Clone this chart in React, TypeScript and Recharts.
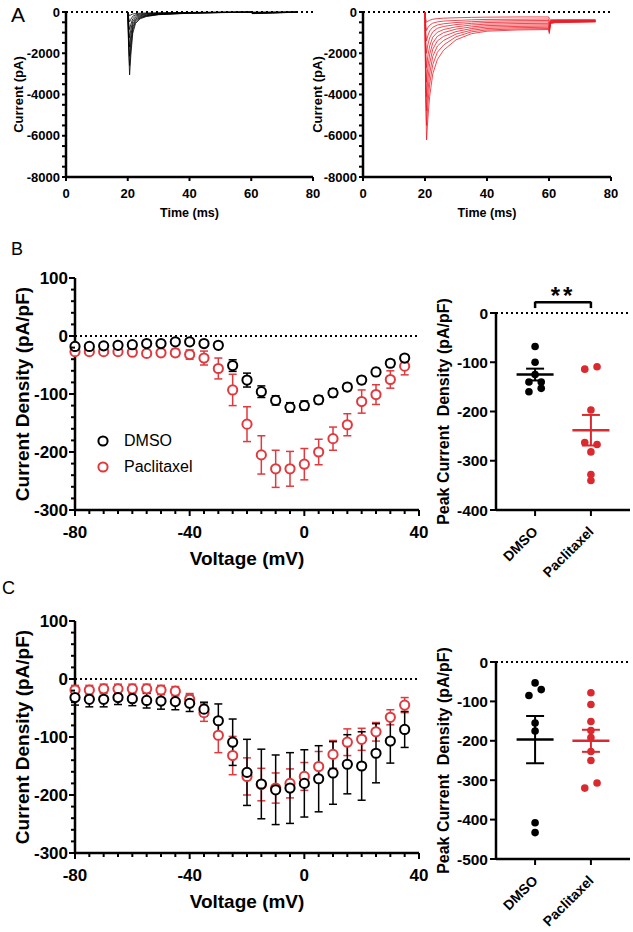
import React from 'react';
import { LineChart, Line, ScatterChart, Scatter, XAxis, YAxis, ReferenceLine, ErrorBar, Legend } from 'recharts';

const FONT = '"Liberation Sans", Arial, sans-serif';
const RED = '#E0393E';
const TRACE_RED = '#EE1B24';
const DOT_RED = '#DA2A2F';

// ---- Panel A: current traces (time in ms, current in pA) ----
const dmsoTraceTimes = [20, 20.3, 20.6, 21, 21.6, 22.5, 24, 26, 30, 40, 50, 60, 60.3, 75];
const dmsoSweeps = [
    [0, -1900, -3050, -2100, -1050, -560, -330, -220, -130, -60, -30, -15, -80, -10],
    [0, -1600, -2600, -1750, -880, -480, -290, -200, -120, -55, -28, -15, -70, -10],
    [0, -1300, -2150, -1450, -740, -410, -260, -180, -110, -50, -25, -12, -60, -8],
    [0, -1000, -1700, -1150, -600, -340, -220, -160, -100, -45, -22, -10, -50, -8],
    [0, -750, -1250, -850, -460, -270, -180, -130, -85, -40, -20, -10, -40, -6],
    [0, -500, -850, -600, -330, -200, -140, -100, -70, -35, -18, -8, -30, -5],
    [0, -280, -480, -350, -210, -140, -100, -75, -55, -28, -15, -6, -20, -5],
    [0, -100, -180, -140, -100, -75, -60, -50, -40, -20, -10, -5, -10, -3],
];

const pacTraceTimes = [20, 20.2, 20.5, 20.9, 21.5, 22.5, 24, 26, 30, 35, 40, 50, 59.9, 60.1, 60.5, 62, 75];
const pacSweeps = [
    [0, -4000, -6200, -5200, -4100, -3000, -2300, -1850, -1350, -1050, -930, -870, -850, -1050, -560, -520, -480],
    [0, -3500, -5500, -4500, -3500, -2550, -1950, -1600, -1200, -960, -870, -820, -800, -980, -540, -500, -470],
    [0, -3000, -4800, -3900, -3000, -2150, -1650, -1380, -1070, -880, -800, -760, -740, -900, -520, -490, -460],
    [0, -2600, -4100, -3300, -2500, -1800, -1400, -1180, -950, -800, -730, -700, -680, -840, -500, -470, -450],
    [0, -2150, -3400, -2700, -2050, -1500, -1180, -1000, -830, -720, -660, -630, -620, -760, -480, -460, -440],
    [0, -1700, -2700, -2150, -1650, -1220, -980, -850, -720, -630, -590, -560, -550, -690, -460, -440, -430],
    [0, -1250, -2000, -1600, -1250, -960, -790, -700, -610, -550, -510, -490, -480, -610, -440, -430, -420],
    [0, -880, -1400, -1150, -920, -740, -630, -570, -510, -470, -440, -420, -410, -530, -420, -410, -400],
    [0, -560, -900, -760, -640, -540, -480, -440, -410, -380, -360, -350, -340, -450, -400, -390, -390],
    [0, -300, -500, -450, -400, -350, -320, -300, -280, -260, -250, -240, -240, -330, -380, -380, -380],
];

const timeTicks = [0, 20, 40, 60, 80];
const currentMajorTicks = [0, -2000, -4000, -6000, -8000];

// ---- Panels B/C: I-V curves (mV, pA/pF) ----
const voltages = [-80, -75, -70, -65, -60, -55, -50, -45, -40, -35, -30, -25, -20, -15, -10, -5, 0, 5, 10, 15, 20, 25, 30, 35];
const voltageLabels = [-80, -40, 0, 40];
const densityLabels = [100, 0, -100, -200, -300];

const dmsoB = [-18, -18, -17, -16, -15, -13, -13, -10, -10, -13, -16, -51, -76, -96, -111, -123, -120, -110, -98, -88, -76, -62, -47, -38];
const dmsoBErr = [5, 5, 5, 5, 5, 5, 5, 5, 5, 5, 5, 10, 12, 10, 8, 8, 8, 7, 7, 6, 6, 6, 6, 5];
const pacB = [-27, -27, -27, -27, -28, -30, -29, -29, -32, -38, -56, -93, -152, -205, -229, -229, -221, -200, -177, -153, -113, -101, -75, -52];
const pacBErr = [5, 5, 5, 5, 5, 5, 5, 6, 8, 12, 18, 27, 30, 33, 32, 30, 27, 22, 20, 19, 20, 17, 15, 15];

const dmsoC = [-32, -35, -35, -32, -34, -37, -38, -39, -42, -52, -72, -109, -161, -181, -191, -188, -180, -172, -162, -147, -150, -128, -107, -87];
const dmsoCErr = [13, 13, 13, 12, 12, 13, 14, 14, 14, 12, 29, 40, 57, 60, 60, 61, 58, 57, 54, 51, 59, 51, 38, 31];
const pacC = [-19, -19, -17, -17, -17, -17, -19, -21, -35, -58, -97, -132, -168, -182, -188, -180, -168, -151, -130, -109, -104, -91, -66, -45];
const pacCErr = [8, 8, 8, 8, 8, 8, 8, 8, 10, 15, 30, 33, 32, 28, 26, 25, 24, 26, 24, 23, 19, 16, 13, 13];

// ---- Peak current density, individual cells ----
const groups = ['DMSO', 'Paclitaxel'];

const dmsoPeakB = [-68, -100, -125, -140, -140, -160, -153];
const dmsoPeakBCol = [1, 1, 1, 0.89, 1.11, 0.89, 1.11];
const pacPeakB = [-114, -109, -197, -263, -267, -282, -328, -340];
const pacPeakBCol = [1.89, 2.11, 2, 1.89, 2.11, 2, 2, 2];
const peakBMean = [-125, -238];
const peakBSem = [12, 31];

const dmsoPeakC = [-53, -85, -70, -155, -175, -408, -433];
const dmsoPeakCCol = [1, 0.89, 1.11, 1, 1, 1, 1];
const pacPeakC = [-78, -108, -151, -174, -192, -227, -250, -320, -307];
const pacPeakCCol = [2, 2, 2, 2, 2, 2, 2, 1.89, 2.11];
const peakCMean = [-197, -200];
const peakCSem = [60, 28];

const peakBTicks = [0, -100, -200, -300, -400];
const peakCTicks = [0, -100, -200, -300, -400, -500];

const range = (from: number, to: number, step: number) => {
    const out: number[] = [];
    for (let v = from; v <= to; v += step) out.push(v);
    return out;
};

const traceRows = (times: number[], sweeps: number[][]) =>
    times.map((t, i) => {
        const row: any = { t };
        sweeps.forEach((s, k) => { row['s' + k] = s[i]; });
        return row;
    });

const ivRows = (ys: number[], es: number[]) => voltages.map((v, i) => ({ v, y: ys[i], e: es[i] }));
const peakRows = (ys: number[], cols: number[]) => ys.map((y, i) => ({ x: cols[i], y }));

const axisLine = { stroke: '#000', strokeWidth: 2.5 };

const makeYTick = (labels: number[], majorLen: number, minorLen: number, fontSize: number, gap: number) => (props: any) => {
    const { x, y, payload } = props;
    const major = labels.includes(payload.value);
    return (
        <g>
            <line x1={x} x2={x - (major ? majorLen : minorLen)} y1={y} y2={y} stroke="#000" strokeWidth={2} />
            {major && (
                <text x={x - majorLen - gap} y={y} textAnchor="end" dominantBaseline="central" fontSize={fontSize} fontWeight="bold" fontFamily={FONT} fill="#000">
                    {payload.value}
                </text>
            )}
        </g>
    );
};

const makeXTick = (labels: number[], majorLen: number, minorLen: number, fontSize: number, dy: number) => (props: any) => {
    const { x, y, payload } = props;
    const major = labels.includes(payload.value);
    return (
        <g>
            <line x1={x} x2={x} y1={y} y2={y + (major ? majorLen : minorLen)} stroke="#000" strokeWidth={2} />
            {major && (
                <text x={x} y={y + dy} textAnchor="middle" dominantBaseline="central" fontSize={fontSize} fontWeight="bold" fontFamily={FONT} fill="#000">
                    {payload.value}
                </text>
            )}
        </g>
    );
};

const catTick = (props: any) => {
    const { x, y, payload } = props;
    return (
        <g>
            <line x1={x} x2={x} y1={y} y2={y + 6} stroke="#000" strokeWidth={2} />
            <text transform={`translate(${x}, ${y + 19}) rotate(-45)`} textAnchor="end" dominantBaseline="central" fontSize={14} fontWeight="bold" fontFamily={FONT} fill="#000">
                {groups[payload.value - 1]}
            </text>
        </g>
    );
};

const yTitle = (text: string, cx: number, fontSize: number) => (props: any) => {
    const vb = props.viewBox;
    const cy = vb.y + vb.height / 2;
    return (
        <text x={cx} y={cy} transform={`rotate(-90, ${cx}, ${cy})`} textAnchor="middle" dominantBaseline="central" fontSize={fontSize} fontWeight="bold" fontFamily={FONT} fill="#000" style={{ whiteSpace: 'pre' }}>
            {text}
        </text>
    );
};

const xTitle = (text: string, dy: number, fontSize: number) => (props: any) => {
    const vb = props.viewBox;
    return (
        <text x={vb.x + vb.width / 2} y={vb.y + dy} textAnchor="middle" dominantBaseline="central" fontSize={fontSize} fontWeight="bold" fontFamily={FONT} fill="#000">
            {text}
        </text>
    );
};

const openCircle = (color: string) => (p: any) => <circle cx={p.cx} cy={p.cy} r={4.6} fill="#fff" stroke={color} strokeWidth={2} />;
const solidDot = (color: string) => (p: any) => <circle cx={p.cx} cy={p.cy} r={3.8} fill={color} />;
const meanBar = (color: string) => (p: any) => <line x1={p.cx - 18.5} x2={p.cx + 18.5} y1={p.cy} y2={p.cy} stroke={color} strokeWidth={2.5} />;

const dotted = { stroke: '#000', strokeWidth: 2, strokeDasharray: '2 3' };

const TracePanel = ({ left, width, plotLeft, plotRight, times, sweeps, color, yLabelX }: any) => {
    const rows = traceRows(times, sweeps);
    return (
        <div style={{ position: 'absolute', left, top: 0 }}>
            <LineChart width={width} height={225} data={rows} margin={{ top: 12, right: width - plotRight, bottom: 0, left: plotLeft - 50 }}>
                <XAxis type="number" dataKey="t" domain={[0, 80]} ticks={timeTicks} interval={0} tickSize={0} tickMargin={0} tickLine={false}
                    axisLine={axisLine} tick={makeXTick(timeTicks, 4, 4, 13, 16)} height={48} label={xTitle('Time (ms)', 36, 12.5)} />
                <YAxis type="number" domain={[-8000, 0]} ticks={range(-8000, 0, 500)} interval={0} tickSize={0} tickMargin={0} tickLine={false}
                    axisLine={axisLine} tick={makeYTick(currentMajorTicks, 4, 4, 13, 2)} width={50} label={yTitle('Current (pA)', yLabelX, 13)} />
                <ReferenceLine y={0} {...dotted} />
                {sweeps.map((_: number[], k: number) => (
                    <Line key={k} type="linear" dataKey={'s' + k} stroke={color} strokeWidth={0.8} dot={false} isAnimationActive={false} />
                ))}
            </LineChart>
        </div>
    );
};

const IVLegend = () => (
    <div style={{ display: 'flex', flexDirection: 'column', gap: 8, fontFamily: FONT }}>
        {groups.map((g, i) => (
            <div key={g} style={{ display: 'flex', alignItems: 'center', height: 18 }}>
                <svg width={14} height={14}>
                    <circle cx={7} cy={7} r={4.6} fill="#fff" stroke={i === 0 ? '#000' : RED} strokeWidth={2} />
                </svg>
                <span style={{ marginLeft: 14, fontSize: 16, color: '#000' }}>{g}</span>
            </div>
        ))}
    </div>
);

const IVPanel = ({ top, dmso, dmsoErr, pac, pacErr, legend }: any) => (
    <div style={{ position: 'absolute', left: 0, top }}>
        <ScatterChart width={440} height={340} margin={{ top: 48, right: 21, bottom: 10, left: 15 }}>
            <XAxis type="number" dataKey="v" domain={[-80, 40]} ticks={range(-80, 40, 5)} interval={0} tickSize={0} tickMargin={0} tickLine={false}
                axisLine={axisLine} tick={makeXTick(voltageLabels, 6, 4, 17, 22)} height={50} label={xTitle('Voltage (mV)', 48, 19)} />
            <YAxis type="number" dataKey="y" domain={[-300, 100]} ticks={range(-300, 100, 20)} interval={0} tickSize={0} tickMargin={0} tickLine={false}
                axisLine={axisLine} tick={makeYTick(densityLabels, 6, 4, 17, 1)} width={60} label={yTitle('Current Density (pA/pF)', 22, 19)} />
            <ReferenceLine y={0} {...dotted} />
            <Scatter data={ivRows(pac, pacErr)} shape={openCircle(RED)} isAnimationActive={false}>
                <ErrorBar dataKey="e" direction="y" width={4} stroke={RED} strokeWidth={1.5} />
            </Scatter>
            <Scatter data={ivRows(dmso, dmsoErr)} shape={openCircle('#000')} isAnimationActive={false}>
                <ErrorBar dataKey="e" direction="y" width={4} stroke="#000" strokeWidth={1.5} />
            </Scatter>
            {legend && (
                <Legend layout="vertical" align="center" verticalAlign="middle" wrapperStyle={{ left: 96, top: 202, width: 'auto' }} content={() => <IVLegend />} />
            )}
        </ScatterChart>
    </div>
);

const PeakPanel = ({ top, height, topMargin, xHeight, dmso, pac, mean, sem, yMin, yTicks, sig }: any) => (
    <div style={{ position: 'absolute', left: 420, top }}>
        <ScatterChart width={213} height={height} margin={{ top: topMargin, right: 3, bottom: height - topMargin - xHeight - 197, left: 30 }}>
            <XAxis type="number" dataKey="x" domain={[0.3, 2.7]} ticks={[1, 2]} interval={0} tickSize={0} tickMargin={0} tickLine={false}
                axisLine={axisLine} tick={catTick} height={xHeight} />
            <YAxis type="number" dataKey="y" domain={[yMin, 0]} ticks={yTicks} interval={0} tickSize={0} tickMargin={0} tickLine={false}
                axisLine={axisLine} tick={makeYTick(yTicks, 6, 6, 15.5, 2)} width={46} label={yTitle('Peak Current  Density (pA/pF)', 23, 16)} />
            <ReferenceLine y={0} {...dotted} />
            <Scatter data={dmso} shape={solidDot('#000')} isAnimationActive={false} />
            <Scatter data={pac} shape={solidDot(DOT_RED)} isAnimationActive={false} />
            <Scatter data={[{ x: 1, y: mean[0], e: sem[0] }]} shape={meanBar('#000')} isAnimationActive={false}>
                <ErrorBar dataKey="e" direction="y" width={9} stroke="#000" strokeWidth={2} />
            </Scatter>
            <Scatter data={[{ x: 2, y: mean[1], e: sem[1] }]} shape={meanBar(DOT_RED)} isAnimationActive={false}>
                <ErrorBar dataKey="e" direction="y" width={9} stroke={DOT_RED} strokeWidth={2} />
            </Scatter>
            {sig && (
                <ReferenceLine segment={[{ x: 1, y: 22 }, { x: 2, y: 22 }]} stroke="#000" strokeWidth={2.5} ifOverflow="visible"
                    label={(p: any) => (
                        <text x={p.viewBox.x + p.viewBox.width / 2} y={p.viewBox.y + 2} textAnchor="middle" fontSize={24} fontWeight="bold" fontFamily={FONT} letterSpacing={3} fill="#000">
                            {sig}
                        </text>
                    )} />
            )}
            {sig && <ReferenceLine segment={[{ x: 1, y: 23 }, { x: 1, y: 10 }]} stroke="#000" strokeWidth={2.5} ifOverflow="visible" />}
            {sig && <ReferenceLine segment={[{ x: 2, y: 23 }, { x: 2, y: 10 }]} stroke="#000" strokeWidth={2.5} ifOverflow="visible" />}
        </ScatterChart>
    </div>
);

const letter = (text: string, left: number, top: number, size: number) => (
    <span style={{ position: 'absolute', left, top, fontSize: size, lineHeight: 1, fontFamily: FONT, color: '#000' }}>{text}</span>
);

const App: React.FC = () => {
    return (
        <div style={{ position: 'absolute', left: 0, top: 0, width: 633, height: 932, background: '#fff', fontFamily: FONT, overflow: 'hidden' }}>
            <TracePanel left={0} width={330} plotLeft={66} plotRight={313} times={dmsoTraceTimes} sweeps={dmsoSweeps} color="#000" yLabelX={18} />
            <TracePanel left={300} width={333} plotLeft={63} plotRight={311} times={pacTraceTimes} sweeps={pacSweeps} color={TRACE_RED} yLabelX={17} />

            <IVPanel top={230} dmso={dmsoB} dmsoErr={dmsoBErr} pac={pacB} pacErr={pacBErr} legend />
            <PeakPanel top={230} height={370} topMargin={83} xHeight={90}
                dmso={peakRows(dmsoPeakB, dmsoPeakBCol)} pac={peakRows(pacPeakB, pacPeakBCol)}
                mean={peakBMean} sem={peakBSem} yMin={-400} yTicks={peakBTicks} sig="**" />

            <IVPanel top={573} dmso={dmsoC} dmsoErr={dmsoCErr} pac={pacC} pacErr={pacCErr} />
            <PeakPanel top={580} height={352} topMargin={82} xHeight={73}
                dmso={peakRows(dmsoPeakC, dmsoPeakCCol)} pac={peakRows(pacPeakC, pacPeakCCol)}
                mean={peakCMean} sem={peakCSem} yMin={-500} yTicks={peakCTicks} />

            {letter('A', 11, 4, 21)}
            {letter('B', 11, 240, 18)}
            {letter('C', 2, 579, 18)}
        </div>
    );
};

export default App;
